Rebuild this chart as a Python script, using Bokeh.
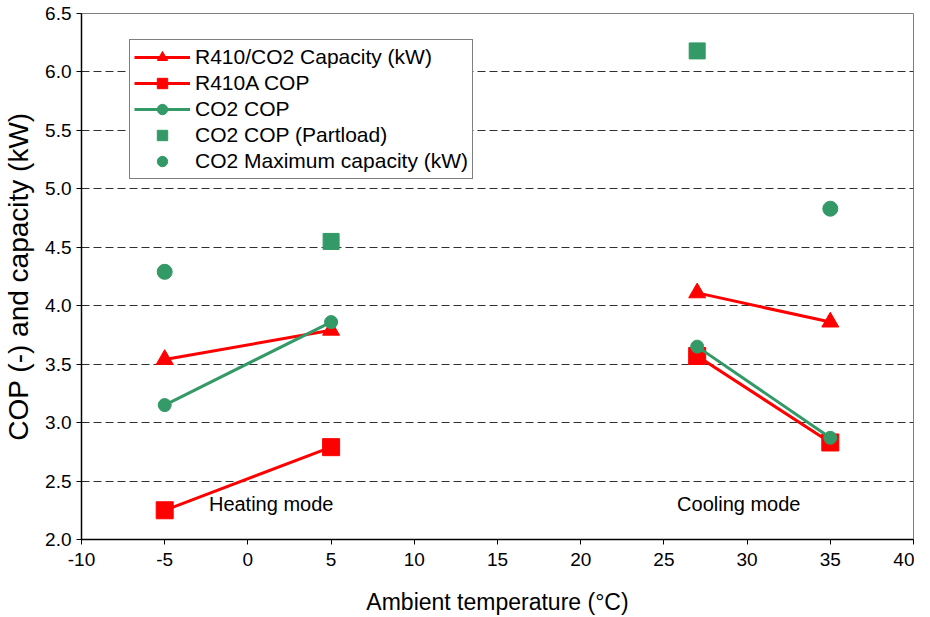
import numpy as np
from bokeh.plotting import figure
from bokeh.models import (Legend, LegendItem, FixedTicker, NumeralTickFormatter, Label,
                          ColumnDataSource)
from bokeh.embed import file_html
from bokeh.resources import INLINE

# ---- data ----
temps = [-5, 5, np.nan, 27, 35]
r410_co2_capacity = [3.54, 3.79, np.nan, 4.11, 3.86]
r410a_cop = [2.25, 2.79, np.nan, 3.57, 2.83]
co2_cop = [3.15, 3.86, np.nan, 3.65, 2.87]
partload_t = [5, 27]
co2_cop_partload = [4.55, 6.18]
maxcap_t = [-5, 35]
co2_max_capacity = [4.29, 4.83]

x_ticks = list(range(-10, 41, 5))
y_ticks = [2.0, 2.5, 3.0, 3.5, 4.0, 4.5, 5.0, 5.5, 6.0, 6.5]

RED = "#FF0000"
GREEN = "#339966"
FONT = "Liberation Sans"

p = figure(width=914, height=617, x_range=(-10, 40), y_range=(2.0, 6.5),
           output_backend="svg", toolbar_location=None,
           min_border_left=81, min_border_right=1, min_border_top=13, min_border_bottom=73)
p.background_fill_color = "white"
p.border_fill_color = "white"
p.outline_line_color = "#808080"
p.outline_line_width = 1

p.xgrid.visible = False
p.ygrid.grid_line_color = "#303030"
p.ygrid.grid_line_dash = "8 4"
p.ygrid.grid_line_width = 1

for ax in (p.xaxis[0], p.yaxis[0]):
    ax.axis_line_color = "black"
    ax.axis_line_width = 1.5
    ax.major_tick_line_color = "black"
    ax.major_tick_out = 5
    ax.major_tick_in = 0
    ax.minor_tick_line_color = None
    ax.major_label_text_font = FONT
    ax.major_label_text_font_size = "19px"
    ax.major_label_text_color = "black"
    ax.axis_label_text_font = FONT
    ax.axis_label_text_font_style = "normal"
    ax.axis_label_text_color = "black"

p.xaxis.ticker = FixedTicker(ticks=x_ticks)
p.yaxis.ticker = FixedTicker(ticks=y_ticks)
p.xaxis.formatter = NumeralTickFormatter(format="0")
p.yaxis.formatter = NumeralTickFormatter(format="0.0")
p.xaxis.axis_label = "Ambient temperature (°C)"
p.yaxis.axis_label = "COP (-) and capacity (kW)"
p.xaxis.axis_label_text_font_size = "23px"
p.yaxis.axis_label_text_font_size = "28px"
p.xaxis.axis_label_standoff = 20
p.yaxis.axis_label_standoff = 8
p.xaxis.major_label_standoff = 8

src = ColumnDataSource(dict(t=temps, cap=r410_co2_capacity, r410=r410a_cop, co2=co2_cop))

l1 = p.line("t", "cap", source=src, color=RED, line_width=3)
m1 = p.scatter("t", "cap", source=src, marker="triangle", size=17, color=RED)
l2 = p.line("t", "r410", source=src, color=RED, line_width=3)
m2 = p.scatter("t", "r410", source=src, marker="square", size=17, color=RED)
l3 = p.line("t", "co2", source=src, color=GREEN, line_width=3)
m3 = p.scatter("t", "co2", source=src, marker="circle", size=13, color=GREEN)
m4 = p.scatter(partload_t, co2_cop_partload, marker="square", size=16, color=GREEN)
m5 = p.scatter(maxcap_t, co2_max_capacity, marker="circle", size=15, color=GREEN)

legend = Legend(items=[
    LegendItem(label="R410/CO2 Capacity (kW)", renderers=[l1, m1]),
    LegendItem(label="R410A COP", renderers=[l2, m2]),
    LegendItem(label="CO2 COP", renderers=[l3, m3]),
    LegendItem(label="CO2 COP (Partload)", renderers=[m4]),
    LegendItem(label="CO2 Maximum capacity (kW)", renderers=[m5]),
], location=(48, 360))
legend.border_line_color = "black"
legend.border_line_width = 1
legend.background_fill_color = "white"
legend.background_fill_alpha = 1
legend.label_text_font = FONT
legend.label_text_font_size = "21px"
legend.label_text_color = "black"
legend.label_height = 26
legend.glyph_height = 26
legend.glyph_width = 56
legend.label_standoff = 5
legend.spacing = 0
legend.padding = 4
legend.margin = 0
p.add_layout(legend, "center")

for txt, xv in (("Heating mode", 1.4), ("Cooling mode", 29.5)):
    p.add_layout(Label(x=xv, y=2.30, text=txt, text_align="center", text_baseline="middle",
                       text_font=FONT, text_font_size="20px", text_color="black"))

open("out.html", "w").write(file_html(p, INLINE))
